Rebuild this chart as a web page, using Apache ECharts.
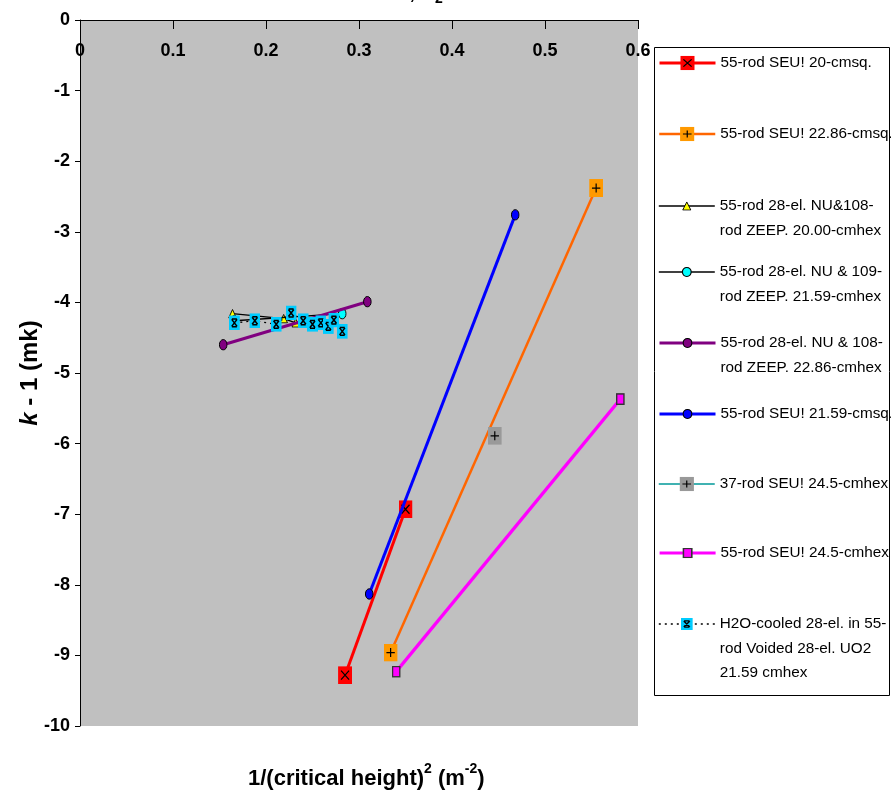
<!DOCTYPE html>
<html><head><meta charset="utf-8">
<script src="https://cdn.jsdelivr.net/npm/echarts@6/dist/echarts.min.js"></script>
<style>html,body{margin:0;padding:0;background:#fff}#c{width:891px;height:797px}</style>
</head><body><div id="c"></div><script>
// ---- data ----
const seriesNames = [
  "55-rod SEU! 20-cmsq.",
  "55-rod SEU! 22.86-cmsq.",
  "55-rod 28-el. NU&108-\nrod ZEEP. 20.00-cmhex",
  "55-rod 28-el. NU & 109-\nrod ZEEP. 21.59-cmhex",
  "55-rod 28-el. NU & 108-\nrod ZEEP. 22.86-cmhex",
  "55-rod SEU! 21.59-cmsq.",
  "37-rod SEU! 24.5-cmhex",
  "55-rod SEU! 24.5-cmhex",
  "H2O-cooled 28-el. in 55-\nrod Voided 28-el. UO2\n21.59 cmhex"
];
const seu20sq   = [[0.285,-9.28],[0.350,-6.93]];
const seu2286sq = [[0.334,-8.96],[0.555,-2.38]];
const zeep2000  = [[0.164,-4.16],[0.219,-4.23],[0.232,-4.29]];
const zeep2159  = [[0.166,-4.26],[0.282,-4.16]];
const zeep2286  = [[0.154,-4.60],[0.309,-3.99]];
const seu2159sq = [[0.311,-8.13],[0.468,-2.76]];
const seu37hex  = [[0.446,-5.89]];
const seu245hex = [[0.340,-9.23],[0.581,-5.37]];
const h2oCooled = [[0.166,-4.29],[0.188,-4.26],[0.211,-4.31],[0.227,-4.15],[0.240,-4.26],
                   [0.250,-4.31],[0.259,-4.29],[0.267,-4.34],[0.273,-4.25],[0.282,-4.41]];
const xTickLabels = ["0","0.1","0.2","0.3","0.4","0.5","0.6"];

// ---- styles ----
function sym(inner, w, h) {
  const svg = '<svg xmlns="http://www.w3.org/2000/svg" width="' + (w*4) + '" height="' + (h*4) +
    '" viewBox="0 0 ' + w + ' ' + h + '">' + inner + '</svg>';
  return 'image://data:image/svg+xml;charset=utf-8,' + encodeURIComponent(svg);
}
const symRed = sym('<rect width="14" height="18" fill="#FF0000"/><path d="M3 4.5L11 13.5M11 4.5L3 13.5" stroke="#000" stroke-width="1.2" fill="none"/>',14,18);
const symOrange = sym('<rect width="14" height="18" fill="#FF9900"/><path d="M7 4.5V13.5M2.8 9H11.2" stroke="#000" stroke-width="1.2" fill="none"/>',14,18);
const symTri = sym('<path d="M4.5 0.8L8.3 9.2H0.7Z" fill="#FFFF00" stroke="#000" stroke-width="0.9"/>',9,10);
const ell = c => sym('<ellipse cx="4.5" cy="6" rx="3.8" ry="5.2" fill="' + c + '" stroke="#000" stroke-width="1"/>',9,12);
const symGray = sym('<rect width="14" height="18" fill="#999999"/><path d="M7 4.5V13.5M2.8 9H11.2" stroke="#000" stroke-width="1.2" fill="none"/>',14,18);
const symMag = sym('<rect x="0.8" y="0.8" width="7.4" height="10.4" fill="#FF00FF" stroke="#333" stroke-width="1.5"/>',9,12);
const symCyanX = sym('<rect width="11" height="15" fill="#00CCFF"/><path d="M2.8 4L8.2 11M8.2 4L2.8 11M3 3.6H8M3 11.4H8" stroke="#000" stroke-width="1.5" fill="none"/>',11,15);

const seriesData = [seu20sq, seu2286sq, zeep2000, zeep2159, zeep2286, seu2159sq, seu37hex, seu245hex, h2oCooled];
const seriesStyle = [
  {color:'#FF0000', width:3, type:'solid', symbol:symRed, size:[14,18], lh:18},
  {color:'#FF6600', width:2.5, type:'solid', symbol:symOrange, size:[14,18], lh:18},
  {color:'#000000', width:1.3, type:'solid', symbol:symTri, size:[9,10], lh:12},
  {color:'#000000', width:1.3, type:'solid', symbol:ell('#00FFFF'), size:[9,12], lh:13},
  {color:'#800080', width:3, type:'solid', symbol:ell('#800080'), size:[9,12], lh:13},
  {color:'#0000FF', width:3, type:'solid', symbol:ell('#0000FF'), size:[9,12], lh:13},
  {color:'#009999', width:1.5, type:'solid', symbol:symGray, size:[14,18], lh:18},
  {color:'#FF00FF', width:3.2, type:'solid', symbol:symMag, size:[9,12], lh:13},
  {color:'#000000', width:1.3, type:[2,4], symbol:symCyanX, size:[11,15], lh:15}
];
const legendIconY = [63, 134, 206, 272, 343, 414, 484, 553, 624];
const LH = 24.5;
const legendFont = "'Liberation Sans',Arial,sans-serif";

const series = seriesData.map((d, i) => ({
  name: seriesNames[i], type: 'line', data: d,
  symbol: seriesStyle[i].symbol, symbolSize: seriesStyle[i].size,
  lineStyle: {color: seriesStyle[i].color, width: seriesStyle[i].width, type: seriesStyle[i].type},
  itemStyle: {color: seriesStyle[i].color},
  emphasis: {disabled: true}, z: 2 + i
}));

const legends = seriesNames.map((n, i) => {
  const lines = n.split('\n').length;
  const st = seriesStyle[i];
  return {
    left: 658, top: legendIconY[i] - (2*lines - 1) * LH / 2, padding: 0,
    orient: 'vertical', itemWidth: 56, itemHeight: st.lh,
    selectedMode: false, data: [n],
    lineStyle: {color: st.color, width: st.width === 1.3 ? 1.6 : st.width, type: st.type, opacity: 1},
    formatter: name => '\n'.repeat(name.split('\n').length - 1) + name,
    textStyle: {fontFamily: legendFont, fontSize: 15.3, lineHeight: LH, color: '#000'}
  };
});

const chart = echarts.init(document.getElementById('c'), null, {renderer: 'canvas'});
chart.setOption({
  animation: false,
  backgroundColor: '#ffffff',
  title: [
    {text: '{a|1/(critical height)}{s|2}{a| (m}{s|-2}{a|)}', left: 243, top: 757,
     textStyle: {rich: {
       a: {fontFamily: 'Liberation Sans, Arial', fontWeight: 'bold', fontSize: 22, color: '#000', lineHeight: 28, verticalAlign: 'bottom'},
       s: {fontFamily: 'Liberation Sans, Arial', fontWeight: 'bold', fontSize: 14, color: '#000', lineHeight: 28, verticalAlign: 'top'}
     }}},
    {text: '{a|k - 1 vs 1/H, H}{s|2}{a|O-cooled}', left: 300, top: -25,
     textStyle: {rich: {
       a: {fontFamily: 'Liberation Sans, Arial', fontWeight: 'bold', fontSize: 20, color: '#000'},
       s: {fontFamily: 'Liberation Sans, Arial', fontWeight: 'bold', fontSize: 14, color: '#000', padding:[12,0,0,0]}
     }}}
  ],
  graphic: [{type: 'rect', left: 654, top: 47, shape: {width: 235, height: 648},
    style: {fill: '#fff', stroke: '#000', lineWidth: 1}, z: -1}],
  legend: legends,
  grid: {left: 80, right: 253, top: 20, bottom: 71, show: true, backgroundColor: '#C0C0C0', borderWidth: 0},
  xAxis: {
    type: 'value', min: 0, max: 0.6, interval: 0.1, position: 'top',
    axisLine: {onZero: false, lineStyle: {color: '#000', width: 1}},
    axisTick: {inside: true, length: 9, lineStyle: {color: '#000'}},
    axisLabel: {inside: true, margin: 22, color: '#000', fontFamily: 'Liberation Sans, Arial', fontWeight: 'bold', fontSize: 18,
      formatter: v => xTickLabels[Math.round(v * 10)] },
    splitLine: {show: false}
  },
  yAxis: {
    type: 'value', min: -10, max: 0, interval: 1,
    name: '{i|k} - 1 (mk)', nameLocation: 'middle', nameGap: 38, nameRotate: 90, nameMoveOverlap: false,
    nameTextStyle: {fontFamily: 'Liberation Sans, Arial', fontWeight: 'bold', fontSize: 24, color: '#000',
      rich: {i: {fontFamily: 'Liberation Sans, Arial', fontWeight: 'bold', fontStyle: 'italic', fontSize: 24, color: '#000'}}},
    axisLine: {show: true, onZero: false, lineStyle: {color: '#000', width: 1}},
    axisTick: {show: true, length: 5, lineStyle: {color: '#000'}},
    axisLabel: {margin: 10, color: '#000', fontFamily: 'Liberation Sans, Arial', fontWeight: 'bold', fontSize: 18},
    splitLine: {show: false}
  },
  series: series
});
</script></body></html>
